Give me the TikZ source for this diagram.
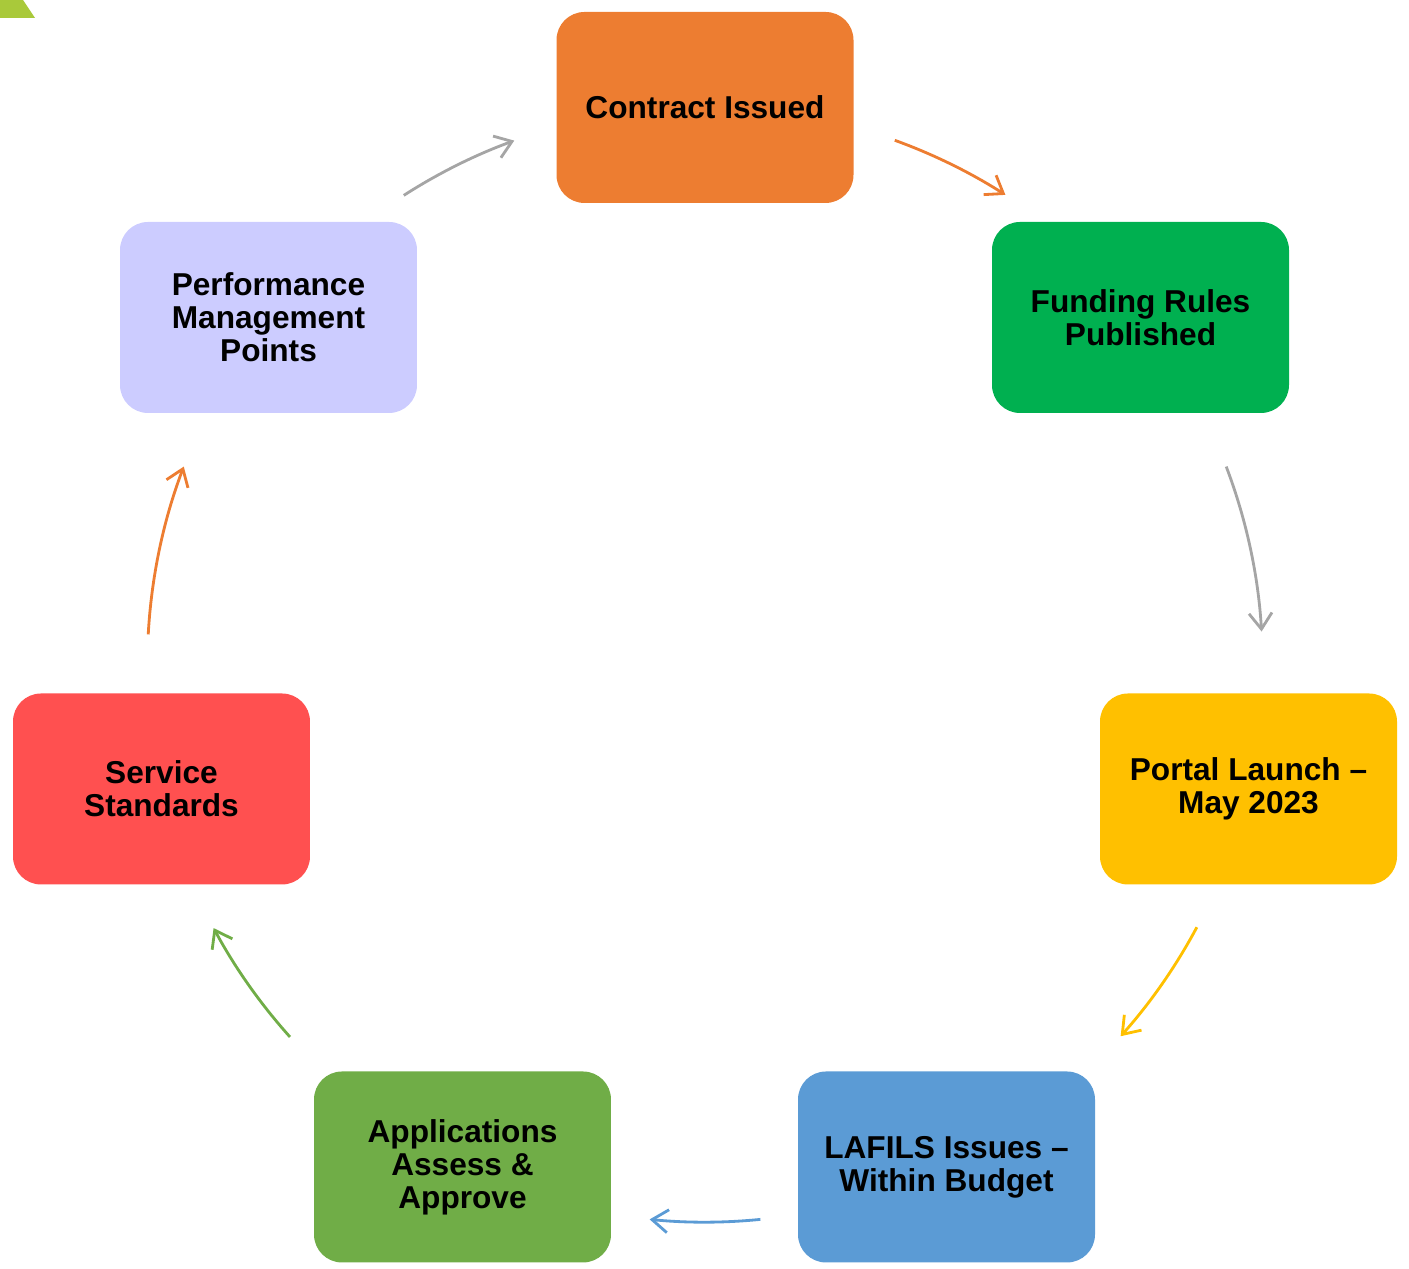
\documentclass[tikz,border=0pt]{standalone}
\usepackage{fontspec}
\setmainfont{Liberation Sans}
\usetikzlibrary{arrows.meta}

\definecolor{stepOrange}{HTML}{ED7D31}
\definecolor{stepGreen}{HTML}{00B050}
\definecolor{stepYellow}{HTML}{FFC000}
\definecolor{stepBlue}{HTML}{5B9BD5}
\definecolor{stepLeaf}{HTML}{70AD47}
\definecolor{stepRed}{HTML}{FF5050}
\definecolor{stepLilac}{HTML}{CCCCFF}
\definecolor{stepGrey}{HTML}{A5A5A5}
\definecolor{cornerGreen}{HTML}{A9C93A}

\begin{document}
\begin{tikzpicture}[x = 0.1mm, y = 0.1mm,
	stage/.style = {rounded corners = 2.8mm, minimum width = 29.7mm, minimum height = 19.1mm,
		inner sep = 0pt, align = center, font = \bfseries\fontsize{9}{9.4}\selectfont},
	flow/.style = {line width = 0.8pt, -{Straight Barb[length=1.6mm,width=2.3mm]}}]
	 \useasboundingbox (0, 0) rectangle (1409, 1269);
	 \fill[cornerGreen] (0, 1269) -- (23, 1269) -- (35, 1251) -- (0, 1251) -- cycle;
	 
	 \coordinate (hub) at (705, 604.4);
	 
	 \node[stage, fill = stepOrange] (contract) at (705, 1161.5) {Contract Issued};
	 \node[stage, fill = stepGreen] (funding) at (1140.5, 951.5) {Funding Rules\\Published};
	 \node[stage, fill = stepYellow] (portal) at (1248.5, 480) {Portal Launch --\\May 2023};
	 \node[stage, fill = stepBlue] (lafils) at (946.5, 102) {LAFILS Issues --\\Within Budget};
	 \node[stage, fill = stepLeaf] (apply) at (462.5, 102) {Applications\\Assess \&\\Approve};
	 \node[stage, fill = stepRed] (service) at (161.5, 480) {Service\\Standards};
	 \node[stage, fill = stepLilac] (perform) at (268.5, 951.5) {Performance\\Management\\Points};
	 
	 \draw[flow, stepOrange] (hub) ++(70.1:557.6) arc[start angle = 70.1, end angle = 57.4, radius = 557.6];
	 \draw[flow, stepGrey] (hub) ++(20.8:557.6) arc[start angle = 20.8, end angle = 3.4, radius = 557.6];
	 \draw[flow, stepYellow] (hub) ++(-28.1:557.6) arc[start angle = -28.1, end angle = -41.8, radius = 557.6];
	 \draw[flow, stepBlue] (hub) ++(-84.3:557.6) arc[start angle = -84.3, end angle = -95.7, radius = 557.6];
	 \draw[flow, stepLeaf] (hub) ++(221.9:557.6) arc[start angle = 221.9, end angle = 208.2, radius = 557.6];
	 \draw[flow, stepOrange] (hub) ++(176.9:557.6) arc[start angle = 176.9, end angle = 159.2, radius = 557.6];
	 \draw[flow, stepGrey] (hub) ++(122.7:557.6) arc[start angle = 122.7, end angle = 110.0, radius = 557.6];
\end{tikzpicture}
\end{document}
